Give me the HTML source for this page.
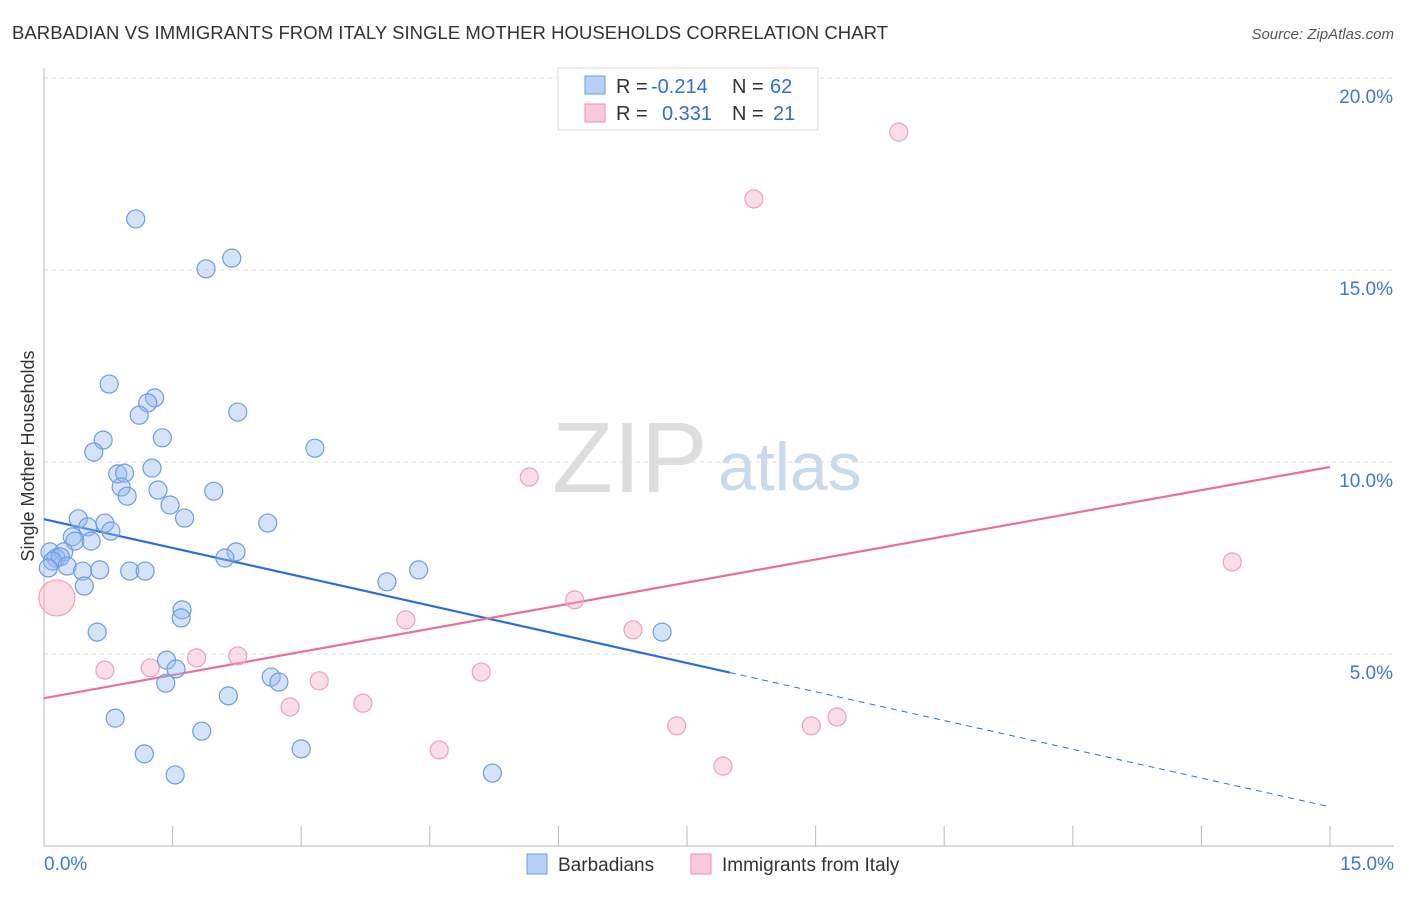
<!DOCTYPE html>
<html><head><meta charset="utf-8"><style>
body{margin:0;background:#fff;font-family:"Liberation Sans",sans-serif;}
svg text{font-family:"Liberation Sans",sans-serif;}
</style></head><body>
<svg id="chart" width="1406" height="892" xmlns="http://www.w3.org/2000/svg">
<text x="12" y="39" font-size="18.5" fill="#333" textLength="876">BARBADIAN VS IMMIGRANTS FROM ITALY SINGLE MOTHER HOUSEHOLDS CORRELATION CHART</text>
<text x="1394" y="39" font-size="15" fill="#555" font-style="italic" text-anchor="end">Source: ZipAtlas.com</text>
<text x="34" y="456" font-size="18" fill="#333" text-anchor="middle" transform="rotate(-90 34 456)">Single Mother Households</text>
<text x="552" y="492" font-size="100" fill="#ddd" font-family="Liberation Serif">ZIP</text>
<text x="718" y="490" font-size="68" fill="#c9d9ee">atlas</text>
<g id="grid"></g><g id="axes"></g><g id="lines"></g><g id="pts"></g>
<g>
<rect x="558" y="68" width="260" height="62" fill="#fff" stroke="#ddd"/>
<rect x="585" y="76" width="20" height="18" fill="#b8d0f4" stroke="#6d9de0"/>
<rect x="585" y="104" width="20" height="18" fill="#fbcad8" stroke="#ec8fab"/>
<text x="616" y="93" font-size="20" fill="#333">R = <tspan x="651" fill="#2f6fd6">-0.214</tspan><tspan x="732">N = </tspan><tspan x="770" fill="#2f6fd6">62</tspan></text>
<text x="616" y="120" font-size="20" fill="#333">R = <tspan x="662" fill="#2f6fd6">0.331</tspan><tspan x="732">N = </tspan><tspan x="773" fill="#2f6fd6">21</tspan></text>
</g>
<g>
<rect x="527" y="854" width="20" height="20" fill="#b8d0f4" stroke="#6d9de0"/>
<text x="558" y="871" font-size="19" fill="#333">Barbadians</text>
<rect x="691" y="854" width="20" height="20" fill="#fbcad8" stroke="#ec8fab"/>
<text x="722" y="871" font-size="19" fill="#333">Immigrants from Italy</text>
</g>
</svg>
<script>
const blueX=[1.07,1.89,2.19,0.76,1.29,1.21,1.11,2.26,0.69,1.38,0.58,3.16,0.86,0.94,1.26,0.90,0.97,1.33,1.98,1.47,0.40,1.64,2.61,0.71,0.51,0.78,0.33,0.36,0.55,0.07,0.23,2.24,2.11,0.14,0.19,0.10,0.27,0.45,0.65,1.00,1.18,0.47,4.00,4.37,1.61,1.60,0.62,7.21,1.43,1.54,1.42,2.65,2.74,2.15,0.83,1.84,3.00,1.17,1.53,5.23,0.05];
const blueY=[16.33,15.03,15.31,12.03,11.67,11.54,11.22,11.30,10.57,10.63,10.26,10.36,9.69,9.71,9.84,9.35,9.11,9.27,9.24,8.88,8.52,8.54,8.41,8.41,8.31,8.20,8.05,7.94,7.94,7.66,7.66,7.66,7.50,7.50,7.53,7.42,7.29,7.16,7.19,7.16,7.16,6.77,6.88,7.19,6.15,5.94,5.57,5.57,4.84,4.61,4.24,4.40,4.27,3.91,3.33,2.99,2.53,2.40,1.85,1.90,7.24];
const pinkX=[9.97,8.28,5.66,13.86,6.19,4.22,6.87,0.71,1.24,1.78,2.26,5.10,3.21,2.87,3.72,4.61,7.38,8.95,9.25,7.92,0.15];
const pinkY=[18.59,16.85,9.61,7.40,6.41,5.89,5.63,4.58,4.64,4.90,4.95,4.53,4.30,3.62,3.72,2.50,3.13,3.13,3.36,2.08,6.46];
const pinkR=[9,9,9,9,9,9,9,9,9,9,9,9,9,9,9,9,9,9,9,9,18];
const yTicks=[5,10,15,20];
const yTickLabels=["5.0%","10.0%","15.0%","20.0%"];
const xTicks=[0,1.5,3,4.5,6,7.5,9,10.5,12,13.5,15];
const blueLine=[8.51,1.02]; const blueSolidEnd=8.0;
const pinkLine=[3.85,9.87];
const NS="http://www.w3.org/2000/svg";
const X=v=>44+v/15*1286, Y=v=>846-v/5*192;
function mk(t,a,p){const e=document.createElementNS(NS,t);for(const k in a)e.setAttribute(k,a[k]);p.appendChild(e);return e;}
const g=document.getElementById('grid'),ax=document.getElementById('axes'),ln=document.getElementById('lines'),pt=document.getElementById('pts');
yTicks.forEach((v,i)=>{
 const l=mk('line',{x1:44,x2:1394,y1:Y(v),y2:Y(v),stroke:'#ddd','stroke-dasharray':'4,4'},g);
 
 
 const t=mk('text',{x:1393,y:Y(v)+25,'font-size':19,fill:'#3b78d8','text-anchor':'end'},g);t.textContent=yTickLabels[i];
 
 
});
mk('line',{x1:44,x2:44,y1:68,y2:846,stroke:'#bbb'},ax);
mk('line',{x1:44,x2:1394,y1:846,y2:846,stroke:'#bbb'},ax);
xTicks.forEach(v=>{const l=mk('line',{x1:X(v),x2:X(v),y1:826,y2:846,stroke:'#bbb'},ax);
 
 });
let t1=mk('text',{x:44,y:870,'font-size':19,fill:'#3b78d8'},ax);t1.textContent='0.0%';


let t2=mk('text',{x:1394,y:870,'font-size':19,fill:'#3b78d8','text-anchor':'end'},ax);t2.textContent='15.0%';


pinkX.forEach((x,i)=>{const c=mk('circle',{cx:X(x),cy:Y(pinkY[i]),r:pinkR[i],fill:'rgba(246,170,195,0.4)',stroke:'#eea1b9','stroke-width':1.2},pt);
 
 });
blueX.forEach((x,i)=>{const c=mk('circle',{cx:X(x),cy:Y(blueY[i]),r:9,fill:'rgba(150,185,238,0.4)',stroke:'#6d9de0','stroke-width':1.2},pt);
 
 });
const by=x=>blueLine[0]+(blueLine[1]-blueLine[0])*x/15;
let b1=mk('line',{x1:X(0),y1:Y(blueLine[0]),x2:X(blueSolidEnd),y2:Y(by(blueSolidEnd)),stroke:'#2a6fd6','stroke-width':2.2},ln);


let b2=mk('line',{x1:X(blueSolidEnd),y1:Y(by(blueSolidEnd)),x2:X(15),y2:Y(blueLine[1]),stroke:'#2a6fd6','stroke-width':1,'stroke-dasharray':'6,5'},ln);


let p1=mk('line',{x1:X(0),y1:Y(pinkLine[0]),x2:X(15),y2:Y(pinkLine[1]),stroke:'#e8709a','stroke-width':2.2},ln);


</script>
</body></html>
